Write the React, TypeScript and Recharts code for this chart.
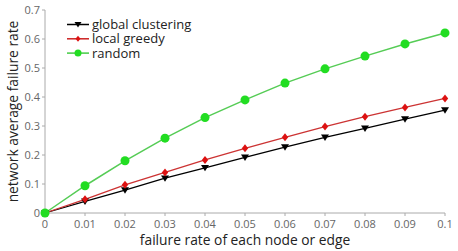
import React from 'react';
import { LineChart, Line, XAxis, YAxis, Label } from 'recharts';

const failureRates = [0, 0.01, 0.02, 0.03, 0.04, 0.05, 0.06, 0.07, 0.08, 0.09, 0.1];
const globalClustering = [0, 0.04, 0.079, 0.12, 0.156, 0.192, 0.227, 0.261, 0.292, 0.324, 0.355];
const localGreedy = [0, 0.047, 0.097, 0.14, 0.183, 0.223, 0.261, 0.298, 0.332, 0.364, 0.395];
const randomSeries = [0, 0.094, 0.18, 0.258, 0.329, 0.39, 0.448, 0.497, 0.541, 0.583, 0.621];
const xTicks = [0, 0.01, 0.02, 0.03, 0.04, 0.05, 0.06, 0.07, 0.08, 0.09, 0.1];
const yTicks = [0, 0.1, 0.2, 0.3, 0.4, 0.5, 0.6, 0.7];

const data = failureRates.map((x, i) => ({
  x,
  global: globalClustering[i],
  local: localGreedy[i],
  random: randomSeries[i],
}));

const FONT = '"Open Sans", "DejaVu Sans", sans-serif';

const triDot = (props: any) => {
  const { cx, cy, index } = props;
  if (cx == null || cy == null) return <g key={'t' + index} />;
  const s = 4;
  return (
    <polygon
      key={'t' + index}
      points={`${cx - s},${cy - s * 0.7} ${cx + s},${cy - s * 0.7} ${cx},${cy + s * 0.9}`}
      fill="#000"
    />
  );
};

const diaDot = (props: any) => {
  const { cx, cy, index } = props;
  if (cx == null || cy == null) return <g key={'d' + index} />;
  const s = 4;
  return (
    <polygon
      key={'d' + index}
      points={`${cx},${cy - s} ${cx + s * 0.8},${cy} ${cx},${cy + s} ${cx - s * 0.8},${cy}`}
      fill="#dd1111"
    />
  );
};

const circDot = (props: any) => {
  const { cx, cy, index } = props;
  if (cx == null || cy == null) return <g key={'c' + index} />;
  return <circle key={'c' + index} cx={cx} cy={cy} r={4.5} fill="#22dd22" />;
};

const legendItems = [
  { label: 'global clustering', color: '#000', kind: 'tri' },
  { label: 'local greedy', color: '#cc2222', kind: 'dia' },
  { label: 'random', color: '#44cc44', kind: 'circ' },
];

const LegendBox = () => (
  <svg width={160} height={50} style={{ position: 'absolute', left: 67, top: 17, overflow: 'visible' }}>
    {legendItems.map((it, i) => {
      const y = 7.5 + i * 14.3;
      return (
        <g key={it.label}>
          <line x1={0} y1={y} x2={22} y2={y} stroke={it.color} strokeWidth={1.5} />
          {it.kind === 'tri' && (
            <polygon points={`${11 - 3.5},${y - 2.5} ${11 + 3.5},${y - 2.5} ${11},${y + 3}`} fill="#000" />
          )}
          {it.kind === 'dia' && (
            <polygon points={`${11},${y - 3} ${11 + 2.5},${y} ${11},${y + 3} ${11 - 2.5},${y}`} fill="#dd1111" />
          )}
          {it.kind === 'circ' && <circle cx={11} cy={y} r={3.5} fill="#22dd22" />}
          <text x={25} y={y + 4.5} fontSize={13} fontFamily={FONT} fill="#222">
            {it.label}
          </text>
        </g>
      );
    })}
  </svg>
);

export default function App() {
  return (
    <div style={{ position: 'fixed', left: 0, top: 0, width: 458, height: 251, background: '#fff' }}>
      <LineChart
        width={458}
        height={251}
        data={data}
        margin={{ top: 10, right: 13, bottom: 0, left: 0 }}
      >
        <XAxis
          dataKey="x"
          type="number"
          domain={[0, 0.1]}
          ticks={xTicks}
          interval={0}
          tickFormatter={(v: number) => String(v)}
          height={38}
          stroke="#aaa"
          tickSize={3}
          tick={{ fill: '#666', fontSize: 11, fontFamily: FONT, dy: 2 }}
        >
          <Label
            value="failure rate of each node or edge"
            position="insideBottom"
            offset={6}
            style={{ fontSize: 13.8, fontFamily: FONT, fill: '#222' }}
          />
        </XAxis>
        <YAxis
          type="number"
          domain={[0, 0.7]}
          ticks={yTicks}
          interval={0}
          tickFormatter={(v: number) => String(v)}
          width={45}
          stroke="#aaa"
          tickSize={3}
          tick={{ fill: '#666', fontSize: 11, fontFamily: FONT }}
        >
          <Label
            value="network average failure rate"
            angle={-90}
            position="insideLeft"
            offset={13}
            style={{ fontSize: 13.8, fontFamily: FONT, fill: '#222', textAnchor: 'middle' }}
          />
        </YAxis>
        <Line
          dataKey="global"
          stroke="#000"
          strokeWidth={1.3}
          dot={triDot}
          activeDot={false}
          isAnimationActive={false}
        />
        <Line
          dataKey="local"
          stroke="#cc3333"
          strokeWidth={1.3}
          dot={diaDot}
          activeDot={false}
          isAnimationActive={false}
        />
        <Line
          dataKey="random"
          stroke="#55cc55"
          strokeWidth={1.5}
          dot={circDot}
          activeDot={false}
          isAnimationActive={false}
        />
      </LineChart>
      <LegendBox />
    </div>
  );
}
